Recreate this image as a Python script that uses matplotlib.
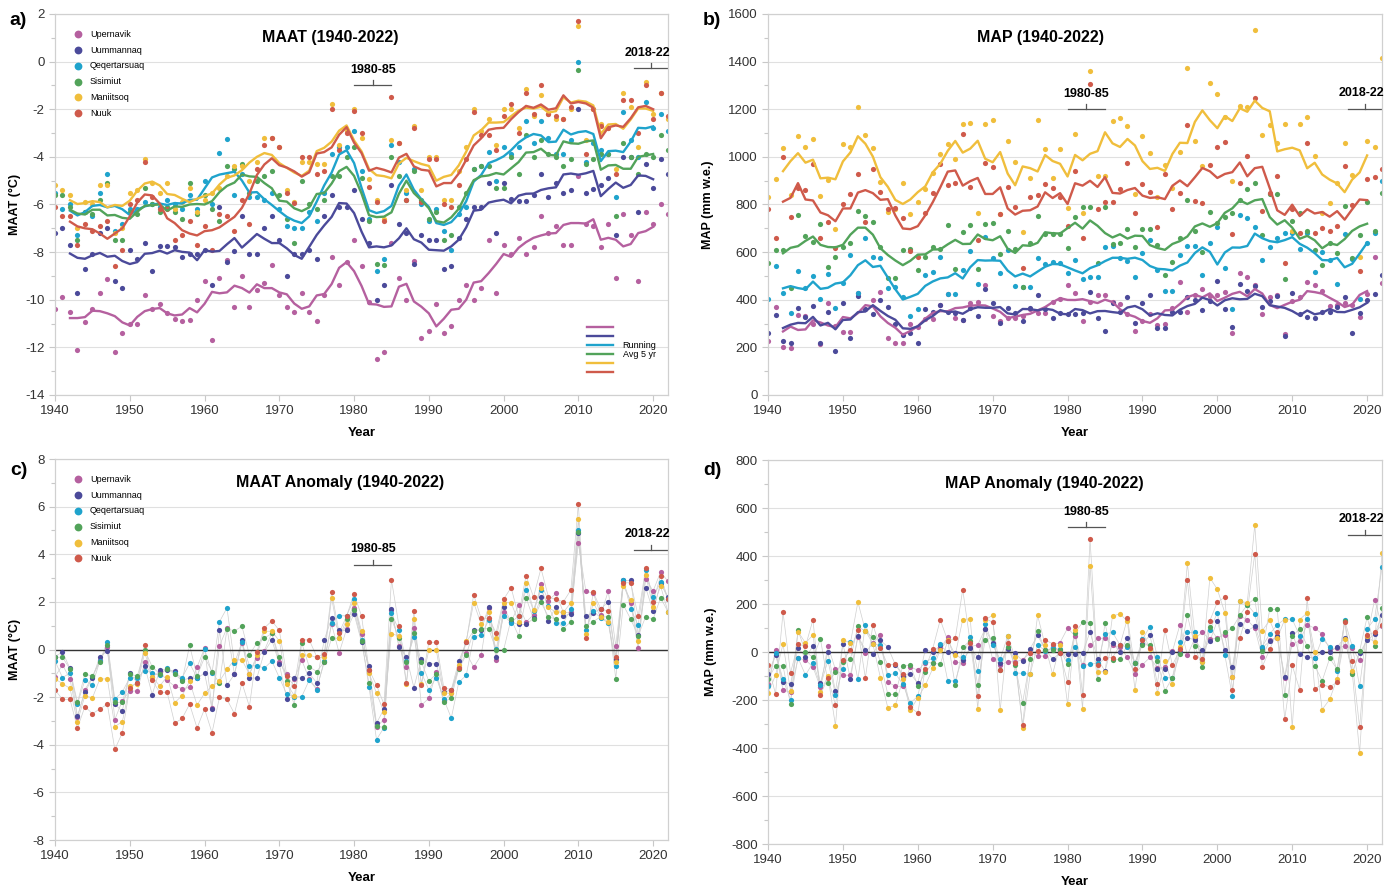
import numpy as np
import pandas as pd
import matplotlib.pyplot as plt
from matplotlib.ticker import MultipleLocator

plt.rcParams['font.family'] = ['Liberation Sans', 'DejaVu Sans']
plt.rcParams['axes.unicode_minus'] = False

years = np.arange(1940, 2023)
stations = ["Upernavik", "Uummannaq", "Qeqertarsuaq", "Sisimiut", "Maniitsoq", "Nuuk"]
colors = ["#b5609f", "#4b4a9a", "#1fa3cc", "#52a35a", "#f0be3c", "#cf5a4b"]

# mean annual air temperature (degC), 1940-2022
upernavik_t = [-10.4, -9.9, -10.5, -12.1, -10.95, -10.4, -9.7, -9.15, -12.2, -11.4,
               -11.0, -11.0, -9.8, -10.4, -10.2, -10.55, -10.8, -10.9, -10.85, -10.0,
               -9.2, -11.7, -9.1, -8.35, -10.3, -9.0, -10.3, -9.6, -9.3, -8.56,
               -9.8, -10.3, -10.5, -9.7, -10.5, -10.9, -9.8, -8.2, -9.4, -8.4,
               -7.5, -8.6, -10.1, -12.5, -12.2, -7.6, -9.1, -10.0, -8.36, -11.6,
               -11.3, -10.2, -11.4, -11.1, -10.0, -9.4, -10.0, -9.5, -7.5, -9.7,
               -7.7, -8.1, -7.4, -8.1, -7.8, -6.5, -7.2, -6.9, -7.7, -7.7,
               -4.8, -6.8, -6.9, -7.8, -6.8, -9.1, -6.4, -7.3, -9.2, -6.3,
               -6.8, -6.0, -6.4]
uummannaq_t = [-7.2, -7.0, -7.7, -9.7, -8.7, -8.1, -7.2, -6.97, -9.2, -9.5,
               -7.9, -8.3, -7.6, -8.8, -7.75, -7.75, -7.8, -8.2, -8.1, -8.1,
               -7.9, -9.4, -6.1, -8.4, -7.95, -6.5, -8.1, -8.1, -7.0, -6.5,
               -7.5, -9.0, -8.1, -8.1, -7.9, -8.3, -6.5, -5.6, -6.1, -6.1,
               -5.4, -6.6, -7.6, -10.0, -9.4, -5.2, -6.8, -7.2, -8.5, -7.3,
               -7.5, -7.5, -8.7, -8.6, -7.4, -6.6, -6.1, -6.1, -5.1, -7.2,
               -5.1, -5.75, -5.85, -5.85, -5.6, -4.7, -5.7, -5.1, -5.5, -5.4,
               -2.0, -5.5, -5.35, -5.2, -4.9, -7.3, -4.0, -4.0, -6.3, -4.3,
               -5.3, -4.1, -4.7]
qeqertarsuaq_t = [-5.5, -6.2, -6.0, -7.3, -6.3, -6.5, -5.5, -4.7, -7.1, -6.8,
                  -6.2, -6.2, -5.9, -6.0, -6.1, -5.8, -6.0, -6.2, -5.6, -6.2,
                  -5.0, -6.0, -3.85, -3.27, -5.6, -4.7, -5.7, -5.7, -5.8, -5.5,
                  -6.2, -6.9, -7.0, -7.0, -6.3, -6.7, -5.5, -3.9, -3.6, -3.6,
                  -2.9, -4.6, -6.6, -8.8, -8.3, -3.5, -4.2, -5.5, -4.5, -6.0,
                  -6.7, -6.2, -7.1, -7.9, -6.4, -6.1, -4.5, -4.4, -3.8, -5.0,
                  -3.6, -3.9, -3.6, -2.5, -3.4, -2.5, -3.2, -3.9, -3.9, -3.3,
                  0.0, -4.2, -3.4, -3.7, -3.9, -5.7, -2.1, -3.3, -4.0, -1.7,
                  -2.8, -2.2, -2.9]
sisimiut_t = [-5.6, -5.6, -6.1, -7.5, -6.3, -6.4, -5.8, -5.1, -7.5, -7.5,
              -6.3, -6.4, -5.3, -6.0, -6.3, -6.1, -6.3, -6.6, -5.1, -6.4,
              -5.6, -6.2, -6.7, -4.4, -4.5, -4.3, -5.5, -5.0, -4.8, -4.6,
              -5.6, -6.6, -7.6, -5.0, -6.0, -6.2, -5.8, -4.8, -4.8, -4.0,
              -3.6, -4.9, -6.7, -8.5, -8.55, -4.0, -4.8, -5.8, -4.6, -5.8,
              -6.6, -6.3, -7.5, -7.3, -6.1, -5.5, -4.5, -4.4, -4.4, -5.3,
              -5.3, -4.0, -4.7, -3.1, -4.0, -3.3, -3.9, -4.0, -4.4, -4.1,
              -0.35, -4.3, -4.1, -3.9, -3.9, -6.5, -3.4, -4.0, -4.7, -3.9,
              -4.0, -3.1, -3.7]
maniitsoq_t = [-5.2, -5.4, -5.6, -7.0, -5.9, -6.0, -5.2, -5.2, -7.2, -7.0,
               -5.5, -5.4, -4.1, -5.1, -5.5, -5.1, -6.2, -5.9, -5.3, -6.3,
               -5.8, -5.5, -5.3, -4.8, -4.4, -4.4, -5.0, -4.2, -3.2, -3.2,
               -3.6, -5.4, -5.9, -4.2, -4.2, -4.3, -4.3, -1.8, -3.5, -2.9,
               -2.0, -3.2, -4.95, -5.8, -6.6, -3.3, -3.4, -5.4, -2.7, -5.4,
               -4.0, -4.0, -5.8, -5.8, -4.6, -3.6, -2.0, -2.9, -2.4, -3.5,
               -2.0, -2.0, -2.8, -1.17, -2.3, -1.4, -2.2, -2.4, -2.4, -2.0,
               1.5, -3.3, -2.0, -2.6, -2.8, -4.5, -1.3, -1.9, -3.6, -0.85,
               -2.2, -1.3, -2.4]
nuuk_t = [-6.1, -6.5, -6.5, -7.7, -6.8, -7.1, -6.9, -6.7, -8.6, -7.9,
          -6.0, -5.8, -4.2, -5.7, -6.2, -6.2, -7.5, -7.3, -6.7, -7.7,
          -6.9, -7.9, -6.4, -6.5, -7.1, -5.8, -6.8, -4.5, -3.5, -3.2,
          -3.6, -5.5, -5.95, -4.0, -4.0, -4.7, -4.6, -2.0, -3.7, -3.0,
          -2.06, -3.0, -5.25, -5.9, -6.7, -1.47, -3.4, -5.8, -2.8, -5.9,
          -4.1, -4.1, -6.0, -6.1, -5.2, -4.1, -2.1, -3.1, -3.1, -3.7,
          -2.3, -1.8, -3.0, -1.3, -2.2, -1.0, -2.2, -2.3, -2.4, -1.9,
          1.72, -3.9, -2.0, -2.7, -2.8, -4.7, -1.6, -1.6, -3.0, -1.0,
          -2.4, -1.3, -2.3]

# mean annual precipitation (mm w.e.), 1940-2022
upernavik_p = [228, 371, 203, 196, 336, 330, 300, 215, 388, 290,
               266, 266, 427, 360, 400, 434, 238, 220, 220, 300,
               287, 318, 318, 378, 424, 322, 315, 385, 392, 460,
               332, 310, 322, 322, 330, 360, 346, 346, 392, 402,
               462, 430, 310, 390, 420, 420, 390, 382, 340, 270,
               310, 340, 295, 300, 365, 476, 350, 420, 444, 416,
               420, 434, 259, 514, 497, 462, 340, 412, 420, 256,
               395, 410, 476, 462, 438, 374, 378, 388, 378, 329,
               425, 581, 469]
uummannaq_p = [259, 336, 227, 217, 367, 329, 374, 220, 350, 186,
               385, 238, 416, 360, 340, 399, 371, 297, 252, 260,
               220, 360, 350, 378, 350, 345, 315, 365, 330, 444,
               388, 304, 364, 346, 312, 364, 420, 360, 322, 345,
               340, 340, 346, 434, 322, 270, 388, 350, 410, 304,
               385, 420, 280, 280, 350, 350, 410, 400, 357, 396,
               480, 360, 287, 466, 438, 458, 368, 395, 416, 248,
               430, 340, 329, 325, 350, 350, 371, 410, 262, 346,
               399, 424, 504]
qeqertarsuaq_p = [402, 542, 430, 346, 520, 448, 500, 405, 508, 367,
                  472, 588, 430, 658, 578, 574, 448, 455, 410, 332,
                  360, 504, 518, 578, 424, 424, 525, 606, 466, 662,
                  574, 514, 610, 458, 455, 452, 574, 550, 560, 556,
                  511, 567, 486, 494, 497, 620, 626, 574, 564, 497,
                  598, 650, 525, 438, 438, 588, 626, 626, 504, 637,
                  707, 532, 360, 756, 742, 704, 567, 620, 658, 681,
                  681, 612, 682, 518, 600, 567, 466, 676, 570, 402,
                  640, 682, 900]
sisimiut_p = [553, 609, 609, 448, 756, 668, 644, 720, 539, 581,
              623, 637, 774, 752, 727, 623, 490, 490, 609, 612,
              525, 581, 620, 615, 714, 528, 686, 714, 528, 718,
              724, 592, 687, 612, 455, 637, 752, 676, 676, 676,
              616, 746, 790, 788, 553, 788, 634, 637, 696, 620,
              696, 696, 630, 504, 560, 658, 819, 690, 602, 770,
              721, 749, 766, 819, 864, 889, 672, 844, 844, 486,
              732, 763, 690, 610, 546, 640, 595, 794, 574, 670,
              812, 690, 850]
maniitsoq_p = [830, 906, 1036, 840, 1088, 1040, 1074, 836, 903, 696,
               1054, 1040, 1211, 1092, 1036, 896, 770, 780, 889, 760,
               812, 864, 934, 1011, 1054, 990, 1138, 1141, 766, 1138,
               1155, 760, 1068, 980, 686, 910, 1155, 1032, 910, 1032,
               784, 1096, 766, 1362, 920, 920, 1152, 1162, 1130, 844,
               1088, 1015, 833, 966, 868, 1022, 1372, 1068, 960, 1312,
               1264, 1166, 900, 1214, 1208, 1533, 1092, 1134, 1060, 1138,
               690, 1138, 1166, 1004, 763, 805, 892, 1057, 924, 581,
               1068, 1043, 1414]
nuuk_p = [780, 661, 1001, 749, 868, 860, 970, 658, 728, 616,
          802, 844, 927, 728, 949, 854, 780, 787, 742, 606,
          581, 766, 850, 970, 882, 892, 1096, 875, 651, 976,
          959, 760, 875, 791, 532, 830, 840, 886, 870, 830,
          710, 942, 658, 1306, 780, 812, 812, 864, 976, 766,
          886, 854, 704, 928, 780, 847, 1134, 816, 808, 966,
          1043, 1064, 676, 892, 1004, 1246, 774, 847, 920, 556,
          780, 679, 1060, 682, 700, 690, 710, 962, 798, 522,
          906, 917, 948]

maat = pd.DataFrame(dict(zip(stations, [upernavik_t, uummannaq_t, qeqertarsuaq_t,
                                        sisimiut_t, maniitsoq_t, nuuk_t])), index=years)
map_ = pd.DataFrame(dict(zip(stations, [upernavik_p, uummannaq_p, qeqertarsuaq_p,
                                        sisimiut_p, maniitsoq_p, nuuk_p])), index=years)

# 5-yr centred running mean and anomaly vs 1940-2022 mean
maat_run = maat.rolling(5, center=True).mean()
map_run = map_.rolling(5, center=True).mean()
maat_anom = maat - maat.mean()
map_anom = map_ - map_.mean()

periods = [(1980, 1985, "1980-85"), (2017.5, 2022, "2018-22")]

fig = plt.figure(figsize=(14, 8.91), dpi=100)
ax_a = fig.add_axes([0.0393, 0.5567, 0.4379, 0.4276])
ax_b = fig.add_axes([0.5486, 0.5567, 0.4386, 0.4276])
ax_c = fig.add_axes([0.0393, 0.0572, 0.4379, 0.4276])
ax_d = fig.add_axes([0.5486, 0.0527, 0.4386, 0.4310])


def style(ax, ylim, ystep, ylabel, ylab_x):
    ax.set_xlim(1940, 2022)
    ax.set_ylim(*ylim)
    ax.xaxis.set_major_locator(MultipleLocator(10))
    ax.yaxis.set_major_locator(MultipleLocator(ystep))
    ax.yaxis.set_minor_locator(MultipleLocator(ystep / 2))
    for s in ax.spines.values():
        s.set_color("#d0d0d0")
        s.set_linewidth(0.9)
    ax.tick_params(axis="both", which="major", labelsize=9.5, colors="#c8c8c8",
                   labelcolor="#333333", length=4, width=0.8)
    ax.tick_params(axis="y", which="minor", colors="#c8c8c8", length=3, width=0.8)
    ax.grid(axis="y", which="major", color="#e0e0e0", lw=0.8)
    ax.set_axisbelow(True)
    ax.set_xlabel("Year", fontsize=9.5, fontweight="bold")
    ax.xaxis.set_label_coords(0.5, -0.083)
    ax.set_ylabel(ylabel, fontsize=9, fontweight="bold")
    ax.yaxis.set_label_coords(ylab_x, 0.5)


def brackets(ax, ylines, tick, texts):
    for (x0, x1, lab), yl, yt in zip(periods, ylines, texts):
        xm = (x0 + x1) / 2
        ax.plot([x0, x1], [yl, yl], color="#555555", lw=0.9)
        ax.plot([xm, xm], [yl, yl + tick], color="#555555", lw=0.9)
        ax.text(xm if x1 < 2020 else 2019.2, yt, lab, ha="center", va="bottom",
                fontsize=9, fontweight="bold")


# a) MAAT
for st, c in zip(stations, colors):
    ax_a.scatter(years, maat[st], s=14, color=c, lw=0, label=st, zorder=2)
run_lines = []
for st, c in zip(stations, colors):
    ln, = ax_a.plot(years, maat_run[st], color=c, lw=1.7, zorder=3)
    run_lines.append(ln)
style(ax_a, (-14, 2), 2, "MAAT (°C)", -0.055)
ax_a.set_title("MAAT (1940-2022)", fontsize=11.5, fontweight="bold", x=0.449, y=0.905)
brackets(ax_a, [-0.98, -0.27], 0.22, [-0.6, 0.1])
leg1 = ax_a.legend(loc="upper left", bbox_to_anchor=(0.01, 0.98), frameon=False,
                   fontsize=6.5, markerscale=1.5, labelspacing=0.75, handletextpad=0.3)
ax_a.add_artist(leg1)
ax_a.legend(run_lines, ["", "", "Running", "Avg 5 yr", "", ""], loc="lower left",
            bbox_to_anchor=(0.855, 0.025), frameon=False, fontsize=6.5,
            labelspacing=0.0, handlelength=2.9, handletextpad=1.0)

# b) MAP
for st, c in zip(stations, colors):
    ax_b.scatter(years, map_[st], s=14, color=c, lw=0, zorder=2)
for st, c in zip(stations, colors):
    ax_b.plot(years, map_run[st], color=c, lw=1.7, zorder=3)
style(ax_b, (0, 1600), 200, "MAP (mm w.e.)", -0.088)
ax_b.set_title("MAP (1940-2022)", fontsize=11.5, fontweight="bold", x=0.443, y=0.905)
brackets(ax_b, [1200, 1200], 21, [1240, 1243])

# c) MAAT anomaly
for st, c in zip(stations, colors):
    ax_c.plot(years, maat_anom[st], color="#cfcfcf", lw=0.5, zorder=1)
for st, c in zip(stations, colors):
    ax_c.scatter(years, maat_anom[st], s=14, color=c, lw=0, label=st, zorder=2)
ax_c.axhline(0, color="#333333", lw=1.0, zorder=1.5)
style(ax_c, (-8, 8), 2, "MAAT (°C)", -0.055)
ax_c.set_title("MAAT Anomaly (1940-2022)", fontsize=11.5, fontweight="bold", x=0.465, y=0.905)
brackets(ax_c, [3.55, 4.18], 0.22, [3.97, 4.6])
ax_c.legend(loc="upper left", bbox_to_anchor=(0.01, 0.98), frameon=False,
            fontsize=6.5, markerscale=1.5, labelspacing=0.75, handletextpad=0.3)

# d) MAP anomaly
for st, c in zip(stations, colors):
    ax_d.plot(years, map_anom[st], color="#cfcfcf", lw=0.5, zorder=1)
for st, c in zip(stations, colors):
    ax_d.scatter(years, map_anom[st], s=14, color=c, lw=0, zorder=2)
ax_d.axhline(0, color="#333333", lw=1.0, zorder=1.5)
style(ax_d, (-800, 800), 200, "MAP (mm w.e.)", -0.083)
ax_d.set_title("MAP Anomaly (1940-2022)", fontsize=11.5, fontweight="bold", x=0.45, y=0.905)
brackets(ax_d, [521, 487], 21, [558, 529])

# panel letters
for x, y, lab in [(0.007, 0.977, "a)"), (0.502, 0.977, "b)"),
                  (0.007, 0.472, "c)"), (0.502, 0.472, "d)")]:
    fig.text(x, y, lab, fontsize=14, fontweight="bold", va="center")

fig.savefig("out.png", dpi=100, facecolor="white")
